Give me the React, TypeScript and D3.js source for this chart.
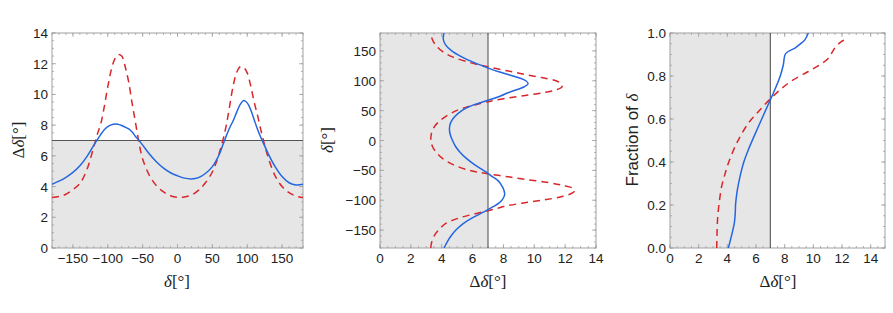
import React, { useRef, useEffect } from 'react';
import * as d3 from 'd3';

// sampled phase grid (deg) shared by both curves
const deltaGrid = [
  -180, -170, -160, -150, -140, -130, -120, -115, -110, -105, -100, -95, -90, -85, -80, -75, -70, -65, -60, -55, -50,
  -40, -30, -20, -10, 0, 10, 20, 30, 40, 50,
  55, 60, 65, 70, 75, 80, 85, 90, 95, 100, 105, 110, 115, 120, 125, 130,
  140, 150, 160, 170, 180,
];
const blueSpread = [
  4.15, 4.35, 4.6, 4.92, 5.35, 5.95, 6.7, 7.05, 7.4, 7.7, 7.9, 8.02, 8.08, 8.05, 7.98, 7.87, 7.75, 7.55, 7.25, 7.0, 6.7,
  6.1, 5.6, 5.2, 4.9, 4.7, 4.55, 4.5, 4.58, 4.85, 5.3,
  5.65, 6.1, 6.7, 7.3, 7.85, 8.3, 8.85, 9.35, 9.6, 9.45, 9.0, 8.35, 7.7, 7.15, 6.65, 6.15,
  5.3, 4.65, 4.25, 4.1, 4.15,
];
const redSpread = [
  3.29, 3.35, 3.5, 3.8, 4.2, 5.1, 6.6, 7.4, 8.1, 9.2, 10.5, 11.6, 12.3, 12.6, 12.5, 11.8, 10.8, 9.4, 8.1, 6.8, 5.8,
  4.7, 4.05, 3.65, 3.4, 3.3, 3.32, 3.45, 3.75, 4.25, 4.95,
  5.5, 6.2, 7.0, 8.0, 9.3, 10.6, 11.45, 11.8, 11.75, 11.4, 10.55, 9.5, 8.6, 7.6, 6.7, 5.9,
  4.7, 4.0, 3.6, 3.38, 3.29,
];

// cumulative fraction of delta below a given spread
const blueCdfX = [4.07, 4.3, 4.49, 4.55, 4.58, 4.7, 4.88, 5.15, 5.46, 6.16, 7.05, 7.4, 7.68, 7.9, 8.07, 8.72, 9.2, 9.42, 9.65];
const blueCdfY = [0, 0.06, 0.117, 0.16, 0.207, 0.27, 0.331, 0.4, 0.456, 0.564, 0.697, 0.75, 0.798, 0.85, 0.904, 0.93, 0.955, 0.969, 1.0];
const redCdfX = [3.26, 3.28, 3.33, 3.45, 3.6, 3.82, 4.07, 4.65, 5.46, 6.16, 7.05, 8.26, 9.65, 10.4, 11.05, 11.5, 11.98, 12.44];
const redCdfY = [0, 0.07, 0.145, 0.22, 0.285, 0.34, 0.394, 0.487, 0.58, 0.634, 0.697, 0.767, 0.821, 0.85, 0.883, 0.93, 0.961, 0.973];

const threshold = 7;

const BLUE = '#2466e0';
const RED = '#d8262a';
const SHADE = '#e6e6e6';
const FRAME = '#a0a0a0';
const SANS = '"Liberation Sans", Arial, sans-serif';
const SERIF = '"Liberation Serif", "Times New Roman", serif';

type Series = { xs: number[]; ys: number[]; color: string; dashed: boolean };

interface PanelOpts {
  id: string;
  left: number; right: number; top: number; bottom: number;
  xDomain: [number, number]; yDomain: [number, number];
  xTicks: number[]; xMinor: number; yTicks: number[]; yMinor: number;
  xFmt: (v: number) => string; yFmt: (v: number) => string;
  shade: 'below' | 'left';
  series: Series[];
}

function drawPanel(svg: d3.Selection<SVGSVGElement, unknown, null, undefined>, o: PanelOpts) {
  const x = d3.scaleLinear().domain(o.xDomain).range([o.left, o.right]);
  const y = d3.scaleLinear().domain(o.yDomain).range([o.bottom, o.top]);
  const g = svg.append('g');

  g.append('clipPath').attr('id', o.id).append('rect')
    .attr('x', o.left).attr('y', o.top).attr('width', o.right - o.left).attr('height', o.bottom - o.top);

  // shaded region + threshold line
  if (o.shade === 'below') {
    g.append('rect').attr('x', o.left).attr('y', y(threshold))
      .attr('width', o.right - o.left).attr('height', o.bottom - y(threshold)).attr('fill', SHADE);
  } else {
    g.append('rect').attr('x', o.left).attr('y', o.top)
      .attr('width', x(threshold) - o.left).attr('height', o.bottom - o.top).attr('fill', SHADE);
  }

  // frame
  g.append('rect').attr('x', o.left).attr('y', o.top)
    .attr('width', o.right - o.left).attr('height', o.bottom - o.top)
    .attr('fill', 'none').attr('stroke', FRAME).attr('stroke-width', 1);

  // ticks on all four sides, pointing inward
  const minorX = d3.range(o.xDomain[0], o.xDomain[1] + 1e-9, o.xMinor);
  const minorY = d3.range(o.yDomain[0], o.yDomain[1] + 1e-9, o.yMinor);
  const tk = g.append('g').attr('stroke', FRAME).attr('stroke-width', 0.8);
  const addX = (v: number, len: number) => {
    tk.append('line').attr('x1', x(v)).attr('x2', x(v)).attr('y1', o.bottom).attr('y2', o.bottom - len);
    tk.append('line').attr('x1', x(v)).attr('x2', x(v)).attr('y1', o.top).attr('y2', o.top + len);
  };
  const addY = (v: number, len: number) => {
    tk.append('line').attr('y1', y(v)).attr('y2', y(v)).attr('x1', o.left).attr('x2', o.left + len);
    tk.append('line').attr('y1', y(v)).attr('y2', y(v)).attr('x1', o.right).attr('x2', o.right - len);
  };
  minorX.forEach(v => addX(v, 2));
  minorY.forEach(v => addY(v, 2));
  o.xTicks.forEach(v => addX(v, 4));
  o.yTicks.forEach(v => addY(v, 4));

  g.selectAll('text.xt').data(o.xTicks).enter().append('text')
    .attr('x', d => x(d)).attr('y', o.bottom + 15)
    .attr('text-anchor', 'middle').style('font-family', SANS).style('font-size', '13.5px').attr('fill', '#222')
    .text(d => o.xFmt(d));
  g.selectAll('text.yt').data(o.yTicks).enter().append('text')
    .attr('x', o.left - 4).attr('y', d => y(d) + 5)
    .attr('text-anchor', 'end').style('font-family', SANS).style('font-size', '13.5px').attr('fill', '#222')
    .text(d => o.yFmt(d));

  // threshold line
  if (o.shade === 'below') {
    g.append('line').attr('x1', o.left).attr('x2', o.right).attr('y1', y(threshold)).attr('y2', y(threshold))
      .attr('stroke', '#555').attr('stroke-width', 1.1);
  } else {
    g.append('line').attr('y1', o.top).attr('y2', o.bottom).attr('x1', x(threshold)).attr('x2', x(threshold))
      .attr('stroke', '#555').attr('stroke-width', 1.1);
  }

  const line = d3.line<[number, number]>().x(d => x(d[0])).y(d => y(d[1])).curve(d3.curveCatmullRom);
  o.series.forEach(s => {
    const pts = s.xs.map((v, i) => [v, s.ys[i]] as [number, number]);
    g.append('path').attr('d', line(pts)).attr('fill', 'none')
      .attr('clip-path', `url(#${o.id})`)
      .attr('stroke', s.color).attr('stroke-width', 1.5)
      .attr('stroke-dasharray', s.dashed ? '7,5' : null);
  });
}

function spreadLabel(t: d3.Selection<SVGTextElement, unknown, null, undefined>) {
  t.append('tspan').style('font-family', SERIF).text('Δ');
  t.append('tspan').style('font-family', SERIF).style('font-style', 'italic').text('δ');
  t.append('tspan').style('font-family', SERIF).text('[°]');
}
function deltaLabel(t: d3.Selection<SVGTextElement, unknown, null, undefined>) {
  t.append('tspan').style('font-family', SERIF).style('font-style', 'italic').text('δ');
  t.append('tspan').style('font-family', SERIF).text('[°]');
}

const App: React.FC = () => {
  const svgRef = useRef<SVGSVGElement>(null);

  useEffect(() => {
    if (!svgRef.current) return;
    const svg = d3.select(svgRef.current);
    svg.selectAll('*').remove();

    const int = (v: number) => d3.format('d')(v);
    const evenTicks = d3.range(0, 15, 2);

    drawPanel(svg, {
      id: 'c1', left: 52, right: 303, top: 33, bottom: 248,
      xDomain: [-180, 180], yDomain: [0, 14],
      xTicks: [-150, -100, -50, 0, 50, 100, 150], xMinor: 10,
      yTicks: evenTicks, yMinor: 0.5,
      xFmt: int, yFmt: int, shade: 'below',
      series: [
        { xs: deltaGrid, ys: redSpread, color: RED, dashed: true },
        { xs: deltaGrid, ys: blueSpread, color: BLUE, dashed: false },
      ],
    });

    drawPanel(svg, {
      id: 'c2', left: 380, right: 596, top: 33, bottom: 248,
      xDomain: [0, 14], yDomain: [-180, 180],
      xTicks: evenTicks, xMinor: 0.5,
      yTicks: [-150, -100, -50, 0, 50, 100, 150], yMinor: 10,
      xFmt: int, yFmt: int, shade: 'left',
      series: [
        { xs: redSpread, ys: deltaGrid, color: RED, dashed: true },
        { xs: blueSpread, ys: deltaGrid, color: BLUE, dashed: false },
      ],
    });

    drawPanel(svg, {
      id: 'c3', left: 670, right: 885, top: 33, bottom: 248,
      xDomain: [0, 15], yDomain: [0, 1],
      xTicks: evenTicks, xMinor: 0.5,
      yTicks: d3.range(0, 1.01, 0.2), yMinor: 0.05,
      xFmt: int, yFmt: d3.format('.1f'), shade: 'left',
      series: [
        { xs: redCdfX, ys: redCdfY, color: RED, dashed: true },
        { xs: blueCdfX, ys: blueCdfY, color: BLUE, dashed: false },
      ],
    });

    // axis titles
    const lbl = (xp: number, yp: number, rot: boolean) =>
      svg.append('text').attr('transform', `translate(${xp},${yp})${rot ? ' rotate(-90)' : ''}`)
        .attr('text-anchor', 'middle').style('font-size', '17px').attr('fill', '#222');

    spreadLabel(lbl(24, 140, true));
    deltaLabel(lbl(177, 287, false));
    deltaLabel(lbl(333, 140, true));
    spreadLabel(lbl(488, 287, false));
    const f = lbl(638, 140, true);
    f.append('tspan').style('font-family', SANS).text('Fraction of ');
    f.append('tspan').style('font-family', SERIF).style('font-style', 'italic').text('δ');
    spreadLabel(lbl(778, 287, false));
  }, []);

  return (
    <svg ref={svgRef} width={893} height={313}
      style={{ position: 'absolute', left: 0, top: 0, background: '#fff' }} />
  );
};

export default App;
